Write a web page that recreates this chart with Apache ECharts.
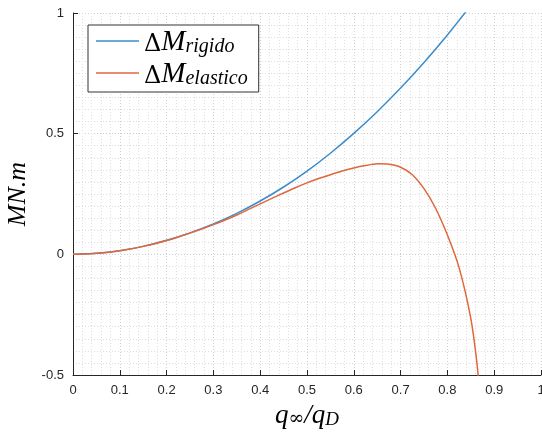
<!DOCTYPE html>
<html>
<head>
<meta charset="utf-8">
<script src="https://cdn.jsdelivr.net/npm/echarts@6/dist/echarts.min.js"></script>
<style>html,body{margin:0;padding:0;background:#fff}#c{width:542px;height:434px}</style>
</head>
<body>
<div id="c"></div>
<script>
// q_inf / q_D sample points and read-off values (MN.m)
var xRigido = [0, 0.05, 0.1, 0.15, 0.2, 0.25, 0.3, 0.35, 0.4, 0.45, 0.5, 0.55, 0.6, 0.65, 0.7, 0.75, 0.8, 0.85];
var yRigido = [0, 0.004, 0.015, 0.033, 0.058, 0.089, 0.126, 0.17, 0.221, 0.279, 0.345, 0.419, 0.501, 0.591, 0.689, 0.795, 0.909, 1.031];
var xElastico = [0, 0.025, 0.05, 0.075, 0.1, 0.125, 0.15, 0.175, 0.2, 0.225, 0.25, 0.275, 0.3, 0.325, 0.35, 0.375, 0.4, 0.425, 0.45, 0.475, 0.5, 0.525, 0.55, 0.575, 0.6, 0.625, 0.65, 0.675, 0.7, 0.725, 0.75, 0.775, 0.8, 0.825, 0.85, 0.8625, 0.875];
var yElastico = [0, 0.001, 0.004, 0.009, 0.015, 0.023, 0.033, 0.044, 0.057, 0.072, 0.088, 0.105, 0.123, 0.142, 0.163, 0.186, 0.209, 0.232, 0.254, 0.276, 0.296, 0.314, 0.33, 0.345, 0.358, 0.368, 0.375, 0.373, 0.361, 0.33, 0.272, 0.19, 0.08, -0.055, -0.265, -0.44, -0.68];
var xTicks = [0, 0.1, 0.2, 0.3, 0.4, 0.5, 0.6, 0.7, 0.8, 0.9, 1];
var yTicks = [-0.5, 0, 0.5, 1];
var seriesNames = ['rigido', 'elastico'];

function pairs(xs, ys) { return xs.map(function (x, i) { return [x, ys[i]]; }); }
function tickFmt(list) {
  return function (v) { var t = list.filter(function (k) { return Math.abs(k - v) < 1e-9; }); return t.length ? String(t[0]) : ''; };
}

var BLUE = '#3a8dcc', ORANGE = '#e0673c';
var chart = echarts.init(document.getElementById('c'), null, {renderer: 'canvas'});
chart.setOption({
  animation: false,
  backgroundColor: '#fff',
  grid: {left: 73, top: 13, right: 1, bottom: 59, containLabel: false, outerBoundsMode: 'none'},
  legend: {
    orient: 'vertical', left: 88, top: 25,
    data: seriesNames.map(function (n) { return {name: n, icon: 'rect'}; }),
    backgroundColor: '#fff', borderColor: '#333', borderWidth: 1,
    padding: [3, 11, 3, 8], itemGap: 3, itemWidth: 43, itemHeight: 1.6,
    formatter: function (n) { return '{d|Δ}{m|M}{s|' + n + '}'; },
    textStyle: {
      color: '#000',
      rich: {
        d: {fontFamily: 'DejaVu Serif', fontSize: 24, lineHeight: 32, verticalAlign: 'bottom', color: '#000'},
        m: {fontFamily: 'Liberation Serif', fontStyle: 'italic', fontSize: 29, lineHeight: 32, verticalAlign: 'bottom', color: '#000'},
        s: {fontFamily: 'Liberation Serif', fontStyle: 'italic', fontSize: 20, verticalAlign: 'bottom', color: '#000', padding: [12, 0, 0, 0]}
      }
    }
  },
  xAxis: {
    type: 'value', min: 0, max: 1, interval: 0.1,
    axisLine: {show: true, onZero: false, lineStyle: {color: '#262626', width: 1}},
    axisTick: {show: true, inside: true, length: 5, lineStyle: {color: '#262626'}},
    axisLabel: {color: '#262626', fontFamily: 'Liberation Sans', fontSize: 13, margin: 9, formatter: tickFmt(xTicks)},
    splitLine: {show: true, lineStyle: {color: '#cfcfcf', type: [1, 2], width: 1}},
    minorTick: {show: false, splitNumber: 5},
    minorSplitLine: {show: true, lineStyle: {color: '#dedede', type: [1, 2], width: 1}},
    name: '{q|q}{s|∞}{q|/q}{t|D}', nameLocation: 'middle', nameGap: 24,
    nameTextStyle: {rich: {
      q: {fontFamily: 'Liberation Serif', fontStyle: 'italic', fontSize: 27, color: '#000', verticalAlign: 'bottom', lineHeight: 30},
      s: {fontFamily: 'DejaVu Serif', fontSize: 19, color: '#000', verticalAlign: 'bottom', padding: [10, 0, 0, 0]},
      t: {fontFamily: 'Liberation Serif', fontStyle: 'italic', fontSize: 19, color: '#000', verticalAlign: 'bottom', padding: [11, 0, 0, 0]}
    }}
  },
  yAxis: {
    type: 'value', min: -0.5, max: 1, interval: 0.5,
    axisLine: {show: true, onZero: false, lineStyle: {color: '#262626', width: 1}},
    axisTick: {show: true, inside: true, length: 5, lineStyle: {color: '#262626'}},
    axisLabel: {color: '#262626', fontFamily: 'Liberation Sans', fontSize: 13, margin: 9, formatter: tickFmt(yTicks)},
    splitLine: {show: true, lineStyle: {color: '#cfcfcf', type: [1, 2], width: 1}},
    minorTick: {show: false, splitNumber: 10},
    minorSplitLine: {show: true, lineStyle: {color: '#dedede', type: [1, 2], width: 1}},
    name: 'MN.m', nameLocation: 'middle', nameGap: 31, nameRotate: 90,
    nameTextStyle: {fontFamily: 'Liberation Serif', fontStyle: 'italic', fontSize: 26, color: '#000'}
  },
  series: [
    {name: seriesNames[0], type: 'line', data: pairs(xRigido, yRigido), smooth: 0.2, symbol: 'none', clip: true,
     lineStyle: {color: BLUE, width: 1.5}, itemStyle: {color: BLUE}},
    {name: seriesNames[1], type: 'line', data: pairs(xElastico, yElastico), smooth: 0.2, symbol: 'none', clip: true,
     lineStyle: {color: ORANGE, width: 1.5}, itemStyle: {color: ORANGE}}
  ]
});
</script>
</body>
</html>
